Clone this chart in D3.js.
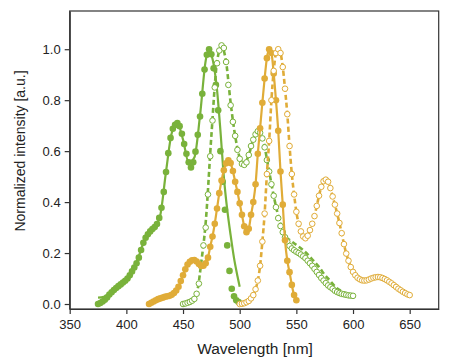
<!DOCTYPE html>
<html>
<head>
<meta charset="utf-8">
<script src="https://cdn.jsdelivr.net/npm/d3@7"></script>
<style>
  body { margin: 0; background: #fff; }
  svg { display: block; font-family: "Liberation Sans", Arial, sans-serif; }
</style>
</head>
<body>
<svg width="457" height="363"></svg>
<script>
(function(){
    'use strict';

    // wavelengths of the marker points (2 nm steps)
    const greenExNm = d3.range(375, 500, 2);
    const greenEmNm = d3.range(450, 601, 2);
    const goldExNm = d3.range(420, 551, 2);
    const goldEmNm = d3.range(500, 651, 2);

    // measured intensities (filled = excitation, open = emission)
    const greenEx = [0.000,0.004,0.010,0.017,0.026,0.037,0.046,0.055,0.063,0.070,
        0.077,0.084,0.091,0.100,0.113,0.128,0.143,0.160,0.182,0.212,
        0.240,0.260,0.274,0.285,0.294,0.302,0.314,0.338,0.378,0.440,
        0.518,0.592,0.652,0.688,0.703,0.710,0.698,0.668,0.628,0.590,
        0.556,0.536,0.556,0.598,0.664,0.736,0.825,0.920,0.978,1.000,
        0.980,0.925,0.860,0.760,0.600,0.480,0.370,0.230,0.130,0.060,
        0.030,0.015,0.008];
    const greenEm = [0.000,0.002,0.005,0.008,0.013,0.020,0.040,0.080,0.150,0.230,
        0.300,0.430,0.580,0.720,0.850,0.945,0.995,1.015,1.005,0.950,
        0.860,0.780,0.715,0.660,0.605,0.570,0.550,0.546,0.556,0.585,
        0.620,0.645,0.666,0.678,0.672,0.650,0.615,0.565,0.520,0.470,
        0.425,0.380,0.337,0.306,0.282,0.262,0.245,0.228,0.218,0.211,
        0.205,0.200,0.194,0.187,0.180,0.170,0.160,0.150,0.138,0.126,
        0.114,0.102,0.092,0.082,0.073,0.066,0.060,0.052,0.047,0.043,
        0.040,0.038,0.036,0.034,0.033,0.032];
    const goldEx = [0.000,0.005,0.010,0.015,0.019,0.022,0.025,0.028,0.030,0.032,
        0.036,0.043,0.053,0.068,0.090,0.113,0.136,0.155,0.166,0.172,
        0.173,0.167,0.157,0.149,0.150,0.160,0.182,0.225,0.265,0.315,
        0.375,0.435,0.485,0.525,0.552,0.564,0.553,0.522,0.480,0.440,
        0.395,0.350,0.305,0.282,0.295,0.350,0.400,0.470,0.590,0.690,
        0.790,0.885,0.965,1.000,0.985,0.905,0.800,0.680,0.520,0.390,
        0.250,0.170,0.125,0.075,0.035,0.015];
    const goldEm = [0.000,0.001,0.003,0.007,0.012,0.022,0.035,0.058,0.092,0.150,
        0.245,0.355,0.510,0.640,0.800,0.915,0.985,1.000,0.985,0.930,
        0.845,0.745,0.620,0.510,0.430,0.362,0.315,0.285,0.265,0.258,
        0.268,0.290,0.315,0.345,0.385,0.425,0.460,0.482,0.488,0.480,
        0.455,0.422,0.390,0.355,0.318,0.278,0.235,0.198,0.170,0.145,
        0.126,0.113,0.103,0.097,0.093,0.092,0.093,0.096,0.100,0.103,
        0.105,0.106,0.105,0.102,0.098,0.093,0.087,0.081,0.074,0.067,
        0.060,0.054,0.048,0.043,0.038,0.035];

    // fitted curves drawn under the green markers
    const greenExFitNm = [375,380,385,390,395,400,405,410,415,420,425,430,435,440,445,450,455,460,465,470,473,475,480,483,486,489,492,495,498,500];
    const greenExFit = [0.025,0.028,0.038,0.055,0.075,0.095,0.130,0.175,0.240,0.280,0.300,0.350,0.520,0.670,0.710,0.645,0.555,0.575,0.740,0.955,1.000,0.980,0.840,0.680,0.500,0.370,0.270,0.180,0.110,0.068];
    const greenEmFitNm = [450,455,460,463,466,470,475,480,484,488,492,496,500,504,508,512,516,520,525,530,535,540,545,550,555,560,565,570,575,580,585,590,595,600];
    const greenEmFit = [0.000,0.005,0.020,0.060,0.160,0.320,0.660,0.950,1.010,0.950,0.790,0.660,0.575,0.550,0.585,0.645,0.680,0.655,0.545,0.425,0.330,0.268,0.248,0.232,0.215,0.195,0.170,0.145,0.115,0.090,0.065,0.050,0.040,0.035];

    const xTicks = [350, 400, 450, 500, 550, 600, 650];
    const yTicks = [0, 0.2, 0.4, 0.6, 0.8, 1.0];

    const green = '#79b23b';
    const gold = '#e0ac38';

    const svg = d3.select('svg');
    const left = 69.7, right = 438.7, top = 11, bottom = 309;

    const x = d3.scaleLinear().domain([350, 675.6]).range([left, right]);
    const y = d3.scaleLinear().domain([-0.0196, 1.15]).range([bottom, top]);

    // frame
    svg.append('rect')
        .attr('x', left).attr('y', top)
        .attr('width', right - left).attr('height', bottom - top)
        .attr('fill', 'none').attr('stroke', '#333').attr('stroke-width', 1.2);

    const xAxis = svg.append('g')
        .attr('transform', `translate(0,${bottom})`)
        .call(d3.axisBottom(x).tickValues(xTicks).tickSize(5).tickSizeOuter(0).tickFormat(d3.format('d')));
    const yAxis = svg.append('g')
        .attr('transform', `translate(${left},0)`)
        .call(d3.axisLeft(y).tickValues(yTicks).tickSize(5).tickSizeOuter(0).tickFormat(d3.format('.1f')));

    [xAxis, yAxis].forEach(g => {
        g.select('.domain').attr('stroke', '#333').attr('stroke-width', 1.2);
        g.selectAll('.tick line').attr('stroke', '#333').attr('stroke-width', 1.2);
        g.selectAll('.tick text').attr('fill', '#222').style('font-size', '13px');
    });
    xAxis.selectAll('.tick text').attr('dy', '0.9em');
    yAxis.selectAll('.tick text').attr('x', -9);

    svg.append('text')
        .attr('x', 255).attr('y', 354)
        .attr('text-anchor', 'middle')
        .attr('fill', '#222')
        .style('font-size', '15.5px')
        .text('Wavelength [nm]');

    svg.append('text')
        .attr('transform', 'translate(25,151) rotate(-90)')
        .attr('text-anchor', 'middle')
        .attr('fill', '#222')
        .style('font-size', '14px')
        .text('Normalized intensity [a.u.]');

    const line = d3.line()
        .x(d => x(d[0]))
        .y(d => y(d[1]))
        .curve(d3.curveMonotoneX);

    const series = [
        { nm: greenExNm, v: greenEx, fitNm: greenExFitNm, fit: greenExFit, color: green, open: false },
        { nm: greenEmNm, v: greenEm, fitNm: greenEmFitNm, fit: greenEmFit, color: green, open: true },
        { nm: goldExNm, v: goldEx, fitNm: goldExNm, fit: goldEx, color: gold, open: false },
        { nm: goldEmNm, v: goldEm, fitNm: goldEmNm, fit: goldEm, color: gold, open: true }
    ];

    series.forEach(s => {
        const pts = s.nm.map((n, i) => [n, s.v[i]]);
        const fitPts = s.fitNm.map((n, i) => [n, s.fit[i]]);

        svg.append('path')
            .datum(fitPts)
            .attr('d', line)
            .attr('fill', 'none')
            .attr('stroke', s.color)
            .attr('stroke-width', s.open ? 2.6 : 2.2)
            .attr('stroke-dasharray', s.open ? '5,3' : null);

        svg.append('g').selectAll('circle')
            .data(pts)
            .join('circle')
            .attr('cx', d => x(d[0]))
            .attr('cy', d => y(d[1]))
            .attr('r', s.open ? 2.8 : 3.3)
            .attr('fill', s.open ? '#fff' : s.color)
            .attr('stroke', s.open ? s.color : 'none')
            .attr('stroke-width', 1);
    });
})();
</script>
</body>
</html>
